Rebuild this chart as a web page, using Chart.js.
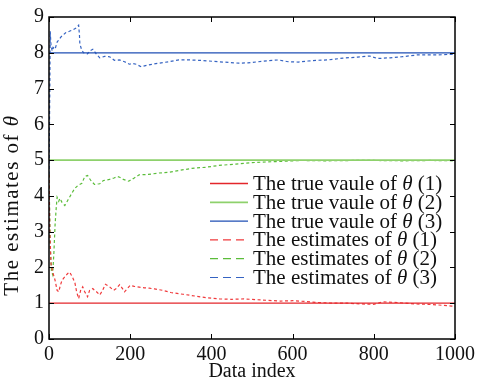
<!DOCTYPE html>
<html>
<head>
<meta charset="utf-8">
<script src="https://cdn.jsdelivr.net/npm/chart.js@4.4.1/dist/chart.umd.min.js"></script>
<style>
  html, body { margin: 0; padding: 0; background: #fff; }
  #wrap { width: 479px; height: 385px; position: relative; }
</style>
</head>
<body>
<div id="wrap"><canvas id="chart"></canvas></div>
<script>
// true parameter values
const trueValues = [1, 5, 8];
const xRange = [0, 1000];
const xTicks = [0, 200, 400, 600, 800, 1000];
const yTicks = [0, 1, 2, 3, 4, 5, 6, 7, 8, 9];

// estimates of theta(1)
const est1X = [0, 2, 5, 10, 15, 20, 24, 28, 32, 39, 46, 51, 59, 64, 68, 73, 78, 83, 88, 95,
  100, 108, 112, 117, 125, 132, 139, 149, 159, 166, 174, 181, 186, 193, 200, 210, 222, 235,
  247, 260, 280, 300, 330, 360, 390, 420, 450, 480, 510, 540, 570, 600, 630, 663, 700, 736,
  770, 800, 822, 858, 900, 932, 960, 993, 1000];
const est1Y = [4.6, 3.0, 2.1, 1.84, 1.64, 1.36, 1.32, 1.5, 1.64, 1.74, 1.83, 1.87, 1.7, 1.56,
  1.32, 1.13, 1.36, 1.46, 1.32, 1.18, 1.36, 1.41, 1.36, 1.32, 1.23, 1.36, 1.53, 1.46, 1.36,
  1.41, 1.52, 1.41, 1.32, 1.41, 1.5, 1.47, 1.45, 1.43, 1.42, 1.4, 1.36, 1.3, 1.25, 1.2, 1.15,
  1.12, 1.11, 1.12, 1.1, 1.08, 1.06, 1.07, 1.05, 1.02, 1.0, 1.0, 0.98, 0.97, 1.04, 1.02, 0.98,
  0.97, 0.95, 0.92, 0.91];

// estimates of theta(2)
const est2X = [0, 3, 6, 9, 12, 15, 18, 20, 24, 27, 32, 39, 46, 56, 63, 71, 81, 88, 95, 103,
  112, 125, 134, 149, 160, 169, 174, 183, 196, 210, 222, 245, 271, 295, 320, 352, 386, 418,
  460, 500, 560, 620, 680, 750, 800, 870, 940, 1000];
const est2Y = [4.6, 2.6, 1.9, 1.8, 2.4, 3.2, 3.7, 3.96, 3.85, 3.93, 3.82, 3.73, 3.87, 4.07,
  4.2, 4.29, 4.35, 4.54, 4.57, 4.43, 4.32, 4.34, 4.43, 4.46, 4.5, 4.54, 4.52, 4.46, 4.41, 4.5,
  4.59, 4.6, 4.64, 4.66, 4.71, 4.77, 4.8, 4.85, 4.89, 4.93, 4.96, 4.99, 4.98, 4.99, 4.99, 4.98,
  4.99, 4.98];

// estimates of theta(3)
const est3X = [0, 2, 3, 5, 8, 10, 15, 20, 30, 41, 50, 60, 68, 73, 75, 76, 80, 85, 95, 100,
  108, 117, 125, 137, 149, 161, 173, 186, 198, 205, 215, 227, 245, 271, 295, 320, 345, 369,
  394, 430, 467, 490, 516, 540, 565, 589, 614, 638, 660, 687, 724, 760, 790, 809, 840, 870,
  907, 956, 1000];
const est3Y = [4.6, 7.0, 8.6, 8.2, 8.05, 8.15, 8.1, 8.3, 8.45, 8.56, 8.6, 8.65, 8.7, 8.77,
  8.5, 8.25, 8.1, 8.0, 7.97, 8.05, 8.1, 7.96, 7.86, 7.9, 7.89, 7.79, 7.8, 7.75, 7.68, 7.7,
  7.68, 7.61, 7.66, 7.71, 7.75, 7.8, 7.8, 7.79, 7.77, 7.74, 7.71, 7.72, 7.75, 7.78, 7.8, 7.75,
  7.74, 7.77, 7.79, 7.8, 7.85, 7.88, 7.91, 7.84, 7.86, 7.89, 7.94, 7.94, 7.96];

const labels = [
  'The true vaule of |θ| (1)', 'The true vaule of |θ| (2)', 'The true vaule of |θ| (3)',
  'The estimates of |θ| (1)', 'The estimates of |θ| (2)', 'The estimates of |θ| (3)'
];
const trueColors = ['#e3262b', '#8ed16c', '#1f4fb4'];
const estColors = ['#f03a3c', '#5bbd3a', '#3563c2'];

const FONT = '"Liberation Serif", "DejaVu Serif", serif';
const FS = 20;

const pts = (xs, ys) => xs.map((x, i) => ({ x: x, y: ys[i] }));

const datasets = [];
trueValues.forEach((v, i) => {
  datasets.push({
    label: labels[i],
    data: xRange.map(x => ({ x: x, y: v })),
    borderColor: trueColors[i],
    borderWidth: i == 1 ? 1.8 : 1.3,
    pointRadius: 0,
    tension: 0,
  });
});
[[est1X, est1Y], [est2X, est2Y], [est3X, est3Y]].forEach((s, i) => {
  datasets.push({
    label: labels[3 + i],
    data: pts(s[0], s[1]),
    borderColor: estColors[i],
    borderWidth: 1.2,
    borderDash: [3, 2.5],
    pointRadius: 0,
    tension: 0,
  });
});

// mixed text with italic theta, segments split on '|'
function drawMixed(ctx, text, x, y, size) {
  text.split('|').forEach((p, k) => {
    ctx.font = (k == 1 ? 'italic ' : '') + size + 'px ' + FONT;
    ctx.fillText(p, x, y);
    x += ctx.measureText(p).width;
  });
}
function mixedWidth(ctx, text, size) {
  let w = 0;
  text.split('|').forEach((p, k) => {
    ctx.font = (k == 1 ? 'italic ' : '') + size + 'px ' + FONT;
    w += ctx.measureText(p).width;
  });
  return w;
}

const framePlugin = {
  id: 'frame',
  afterDraw(chart) {
    const { ctx, chartArea: a, scales } = chart;
    ctx.save();
    ctx.strokeStyle = '#000';
    ctx.lineWidth = 1.5;
    ctx.strokeRect(a.left, a.top, a.right - a.left, a.bottom - a.top);
    ctx.lineWidth = 1;
    const t = 5;
    ctx.beginPath();
    xTicks.forEach(v => {
      const px = Math.round(scales.x.getPixelForValue(v)) + 0.5;
      ctx.moveTo(px, a.bottom); ctx.lineTo(px, a.bottom - t);
      ctx.moveTo(px, a.top); ctx.lineTo(px, a.top + t);
    });
    yTicks.forEach(v => {
      const py = Math.round(scales.y.getPixelForValue(v)) + 0.5;
      ctx.moveTo(a.left, py); ctx.lineTo(a.left + t, py);
      ctx.moveTo(a.right, py); ctx.lineTo(a.right - t, py);
    });
    ctx.stroke();

    // legend
    const lx = a.left + 161, ly = 183.5, row = 18.8;
    chart.data.datasets.forEach((ds, i) => {
      const y = ly + i * row;
      ctx.strokeStyle = ds.borderColor;
      ctx.lineWidth = ds.borderWidth;
      ctx.setLineDash(ds.borderDash ? [8, 5] : []);
      ctx.beginPath();
      ctx.moveTo(lx, y); ctx.lineTo(lx + 38, y);
      ctx.stroke();
      ctx.setLineDash([]);
      ctx.fillStyle = '#111';
      ctx.textBaseline = 'middle';
      ctx.textAlign = 'left';
      drawMixed(ctx, ds.label, lx + 43, y + 1, 21);
    });

    // y axis title
    const ytitle = 'The estimates of |θ|';
    ctx.translate(12, 192);
    ctx.rotate(-Math.PI / 2);
    ctx.fillStyle = '#111';
    ctx.textBaseline = 'middle';
    ctx.letterSpacing = '1.5px';
    drawMixed(ctx, ytitle, -mixedWidth(ctx, ytitle, 21) / 2 - 13, 0, 21);
    ctx.restore();
  }
};

new Chart(document.getElementById('chart'), {
  type: 'line',
  data: { datasets: datasets },
  plugins: [framePlugin],
  options: {
    responsive: true,
    maintainAspectRatio: false,
    animation: false,
    layout: { padding: { top: 16, right: 21, left: 0, bottom: 0 } },
    plugins: { legend: { display: false }, tooltip: { enabled: false } },
    scales: {
      x: {
        type: 'linear',
        min: 0, max: 1000,
        afterFit: s => { s.height = 46; },
        afterBuildTicks: s => { s.ticks = xTicks.map(v => ({ value: v })); },
        grid: { display: false, drawTicks: false },
        border: { display: false },
        ticks: { color: '#111', padding: 4, maxRotation: 0, callback: v => String(v), font: { family: FONT, size: FS } },
        title: { display: true, text: 'Data index', color: '#111', padding: { top: 0, bottom: 1 }, font: { family: FONT, size: FS } },
      },
      y: {
        type: 'linear',
        min: 0, max: 9,
        afterFit: s => { s.width = 49; },
        afterBuildTicks: s => { s.ticks = yTicks.map(v => ({ value: v })); },
        grid: { display: false, drawTicks: false },
        border: { display: false },
        ticks: { color: '#111', padding: 5, callback: v => String(v), font: { family: FONT, size: FS } },
      },
    },
  },
});
</script>
</body>
</html>
